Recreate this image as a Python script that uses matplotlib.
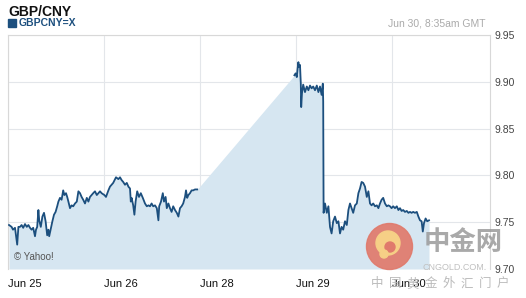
import numpy as np
import matplotlib
matplotlib.use("Agg")
import matplotlib.pyplot as plt
from matplotlib.patches import Ellipse, Rectangle

# hours since Jun 25 00:00 on the compressed (trading day) axis, and GBP/CNY quotes
hours_a = [0.25, 0.9, 1.25, 1.75, 2.3, 2.6, 3.0, 3.4, 3.8, 4.25, 4.7, 5.1, 5.5, 5.9, 6.3,
           6.75, 7.0, 7.3, 7.6, 7.8, 8.2, 8.6, 9.0, 9.4, 9.8, 10.1, 10.3, 10.7, 11.1, 11.5,
           11.9, 12.3, 12.6, 13.0, 13.4, 13.8, 14.1, 14.5, 14.8, 15.1, 15.5, 15.9, 16.3,
           16.75, 17.2, 17.6, 18.0, 18.4, 18.8, 19.25, 19.7, 20.1, 20.5, 20.9, 21.3, 21.75,
           22.2, 22.6, 23.0, 23.4, 24.1,
           24.5, 25.1, 25.5, 26.3, 27.0, 27.6, 28.0, 28.4, 28.8, 29.25, 29.7, 30.1, 30.5,
           30.7, 30.9, 31.3, 31.6, 31.9, 32.3, 32.75, 33.2, 33.7, 34.25, 34.7, 35.1, 35.5,
           35.9, 36.3, 36.75, 37.2, 37.6, 37.8, 38.25, 38.7, 39.0, 39.4, 39.7, 40.1, 40.5,
           40.9, 41.3, 41.75, 42.2, 42.6, 43.0, 43.4, 43.8, 44.25, 44.5, 44.8, 45.1, 45.5,
           45.9, 46.3, 46.75, 47.3]
rate_a = [9.747, 9.745, 9.742, 9.744, 9.726, 9.745, 9.745, 9.747, 9.744, 9.748, 9.745,
          9.747, 9.744, 9.742, 9.744, 9.735, 9.742, 9.745, 9.763, 9.752, 9.745, 9.756,
          9.760, 9.751, 9.736, 9.742, 9.735, 9.743, 9.751, 9.758, 9.761, 9.767, 9.772,
          9.776, 9.774, 9.784, 9.779, 9.781, 9.777, 9.772, 9.765, 9.768, 9.767, 9.770,
          9.772, 9.783, 9.781, 9.777, 9.774, 9.770, 9.776, 9.772, 9.777, 9.779, 9.781,
          9.783, 9.779, 9.781, 9.783, 9.781, 9.779,
          9.777, 9.784, 9.788, 9.792, 9.798, 9.796, 9.798, 9.795, 9.793, 9.790, 9.792,
          9.788, 9.786, 9.772, 9.776, 9.768, 9.758, 9.772, 9.783, 9.777, 9.781, 9.776,
          9.770, 9.767, 9.768, 9.767, 9.770, 9.767, 9.768, 9.765, 9.752, 9.767, 9.772,
          9.781, 9.772, 9.777, 9.765, 9.770, 9.765, 9.761, 9.767, 9.763, 9.760, 9.756,
          9.765, 9.767, 9.770, 9.777, 9.784, 9.776, 9.779, 9.781, 9.784, 9.784, 9.785,
          9.785]

hours_b = [71.6, 71.9, 72.2, 72.4, 72.6, 72.75, 73.0, 73.2, 73.3, 73.5, 73.8, 74.25, 74.7,
           75.1, 75.5, 75.9, 76.3, 76.75, 77.2, 77.6, 78.0, 78.4, 78.7, 78.8, 78.9, 79.25,
           79.7, 80.1, 80.5, 80.9, 81.3, 81.75, 82.2, 82.6, 83.0, 83.4, 83.8, 84.25, 84.7,
           85.1, 85.5, 85.9, 86.3, 86.75, 87.2, 87.6, 88.0, 88.4, 88.8, 89.25, 89.7, 90.1,
           90.5, 90.9, 91.3, 91.75, 92.2, 92.6, 93.0, 93.4, 93.8, 94.25, 94.7, 95.1, 95.5,
           95.9, 96.3, 96.75, 97.2, 97.6, 98.0, 98.4, 98.8, 99.25, 99.7, 100.1, 100.5,
           100.9, 101.3, 101.75, 102.2, 102.6, 103.0, 103.4, 103.7, 104.0, 104.4, 104.8,
           105.25]
rate_b = [9.907, 9.909, 9.905, 9.914, 9.921, 9.916, 9.918, 9.898, 9.873, 9.888, 9.897,
          9.889, 9.895, 9.891, 9.896, 9.893, 9.895, 9.891, 9.896, 9.889, 9.895, 9.886,
          9.898, 9.879, 9.760, 9.770, 9.760, 9.767, 9.745, 9.738, 9.751, 9.756, 9.749,
          9.751, 9.738, 9.745, 9.742, 9.751, 9.747, 9.763, 9.770, 9.765, 9.760, 9.768,
          9.770, 9.781, 9.786, 9.793, 9.792, 9.788, 9.777, 9.783, 9.770, 9.768, 9.770,
          9.767, 9.768, 9.765, 9.770, 9.774, 9.776, 9.770, 9.767, 9.768, 9.767, 9.765,
          9.767, 9.765, 9.767, 9.763, 9.765, 9.762, 9.763, 9.761, 9.762, 9.760, 9.761,
          9.760, 9.761, 9.760, 9.761, 9.756, 9.752, 9.751, 9.740, 9.749, 9.754, 9.751,
          9.752]

day_ticks = [0, 24, 48, 72, 96]
day_labels = ["Jun 25", "Jun 26", "Jun 28", "Jun 29", "Jun 30"]
y_ticks = [9.70, 9.75, 9.80, 9.85, 9.90, 9.95]

plt.rcParams['font.family'] = ['Liberation Sans', 'DejaVu Sans']

W, H = 526, 298
fig = plt.figure(figsize=(W / 100, H / 100), dpi=100)
ax = fig.add_axes([8 / W, (H - 269) / H, (490 - 8) / W, (269 - 35) / H])

line_col = '#1c4f7e'
fill_col = '#d6e6f1'
grid_col = '#e3e6ea'

# area fills across the weekend gap, line does not
x_all = hours_a + hours_b
y_all = rate_a + rate_b
ax.fill_between(x_all, y_all, 9.70, color=fill_col, lw=0, zorder=1)
ax.plot(hours_a, rate_a, color=line_col, lw=1.3, zorder=3)
ax.plot(hours_b, rate_b, color=line_col, lw=1.3, zorder=3)

ax.set_xlim(0, 120.5)
ax.set_ylim(9.70, 9.95)
ax.set_xticks(day_ticks)
ax.set_xticklabels(day_labels, ha='left', fontsize=8, color='#111111')
ax.set_yticks(y_ticks)
ax.set_yticklabels(["%.2f" % v for v in y_ticks], fontsize=7.5, color='#444444')
ax.yaxis.tick_right()
ax.tick_params(axis='both', length=0)
ax.tick_params(axis='x', pad=7)
ax.tick_params(axis='y', pad=3)
ax.grid(True, color=grid_col, lw=0.8, zorder=0)
ax.set_axisbelow(True)
for side in ['left', 'right', 'top']:
    ax.spines[side].set_color('#d8d8d8')
    ax.spines[side].set_linewidth(0.8)
ax.spines['bottom'].set_visible(False)

ax.text(0.012, 0.03, "\u00a9 Yahoo!", transform=ax.transAxes, fontsize=7,
        color='#555555', va='bottom', ha='left', zorder=4)

# header
fig.text(8 / W, 1 - 12 / H, "GBP/CNY", fontsize=10, fontweight='bold',
         color='#111111', va='center', ha='left')
fig.patches.append(Rectangle((8 / W, 1 - 27 / H), 8 / W, 8 / H,
                             transform=fig.transFigure, color=line_col))
fig.text(19 / W, 1 - 23 / H, "GBPCNY=X", fontsize=7.5, fontweight='bold',
         color=line_col, va='center', ha='left')
fig.text(486 / W, 1 - 24 / H, "Jun 30, 8:35am GMT", fontsize=7.5,
         color='#aaaaaa', va='center', ha='right')

# cngold watermark
def blob(cx, cy, r, col, z, a=1.0):
    fig.patches.append(Ellipse((cx / W, 1 - cy / H), 2 * r / W, 2 * r / H,
                               transform=fig.transFigure, color=col, alpha=a, zorder=z))

blob(389.5, 246.5, 23, '#e07a6c', 5, 0.92)
blob(388, 243, 12, '#f6cf86', 6)
blob(390, 247, 5, '#e07a6c', 7)
blob(384, 254, 4, '#f6cf86', 7)

cjk = ['Noto Sans CJK SC', 'DejaVu Sans']
fig.text(463 / W, 1 - 243 / H, "中金网", family=cjk, fontsize=19, fontweight='bold',
         color='#9a9a9a', alpha=0.85, va='center', ha='center', zorder=8)
fig.text(455 / W, 1 - 267 / H, "CNGOLD.COM.", fontsize=6.5, color='#c0c0c0',
         va='center', ha='center', zorder=8)
for i, ch in enumerate("中国黄金外汇门户"):
    fig.text((377 + i * 18) / W, 1 - 284 / H, ch, family=cjk, fontsize=9,
             color='#bbbbbb', va='center', ha='center', zorder=8)

fig.savefig("out.png", dpi=100)
